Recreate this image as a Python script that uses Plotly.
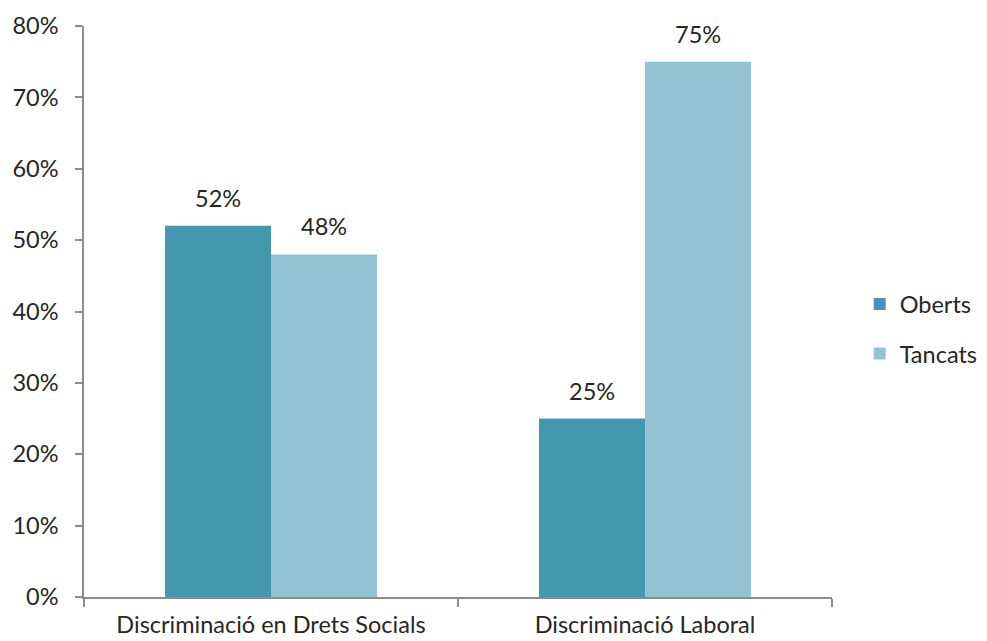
import plotly.graph_objects as go

categories = ["Discriminació en Drets Socials", "Discriminació Laboral"]
oberts = [0.52, 0.25]
tancats = [0.48, 0.75]
series_names = ["Oberts", "Tancats"]
colors = ["#4398AF", "#93C3D4"]

FONT = "Lato"
FS = 23.5
TXT = "#262626"
fig = go.Figure()
for i, (name, vals, col) in enumerate(zip(series_names, [oberts, tancats], colors)):
    fig.add_trace(go.Bar(
        x=categories, y=vals, name=name, marker_color=col, marker_line_width=0,
        legendgroup=name, offsetgroup=str(i),
    ))

# page body has an 8px default margin, so the figure is sized to fit the window
fig.update_layout(
    width=979, height=633,
    margin=dict(l=76, r=155, t=18, b=44, autoexpand=False),
    paper_bgcolor="white", plot_bgcolor="white",
    barmode="group", bargap=0.433, bargroupgap=0,
    font=dict(family=FONT, size=FS, color=TXT),
    showlegend=True,
    legend=dict(x=1.037, y=0.469, xanchor="left", yanchor="middle",
                font=dict(family=FONT, size=FS, color=TXT),
                tracegroupgap=16, traceorder="grouped"),
    xaxis=dict(showline=True, linecolor="#8C8C8C", linewidth=1.5,
               ticks="outside", tickson="boundaries", ticklen=8, tickcolor="#8C8C8C",
               tickwidth=1.5, showgrid=False, automargin=False, ticklabelstandoff=6,
               tickfont=dict(family=FONT, size=FS)),
    yaxis=dict(range=[0, 0.8], dtick=0.1, tickformat=".0%", showline=True,
               linecolor="#8C8C8C", linewidth=1.5, ticks="outside", ticklen=7,
               tickcolor="#8C8C8C", tickwidth=1.5, showgrid=False, zeroline=False,
               automargin=False, ticklabelstandoff=12,
               tickfont=dict(family=FONT, size=FS)),
)

# data labels: placed via the axes scales above each bar
n = len(series_names)
for i, vals in enumerate([oberts, tancats]):
    for j, (cat, v) in enumerate(zip(categories, vals)):
        fig.add_annotation(
            x=j, y=v, xref="x", yref="y", text=f"{v*100:.0f}%", showarrow=False,
            xshift=(i - (n - 1) / 2) * 106, yshift=28,
            font=dict(family=FONT, size=FS, color=TXT),
        )
fig.write_html("out.html")
